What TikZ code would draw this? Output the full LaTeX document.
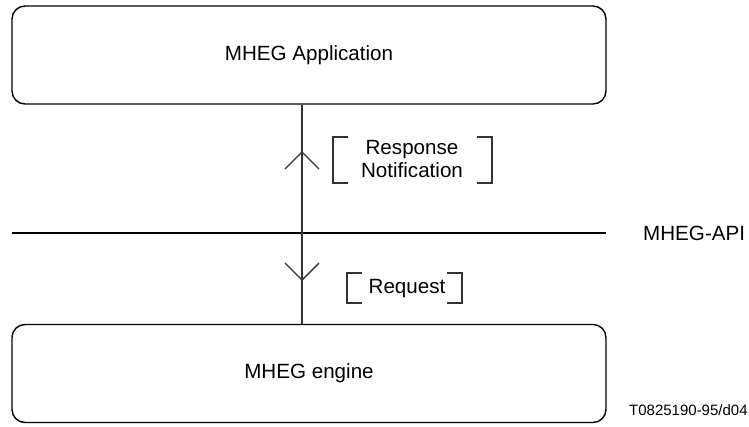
\documentclass[tikz,border=0pt]{standalone}
\usepackage{fontspec}
\setmainfont{Liberation Sans}
\begin{document}
\begin{tikzpicture}[x=1pt,y=-1pt,
  box/.style={draw, line width=1.4pt, rounded corners=13pt, minimum width=594pt, minimum height=98pt, inner sep=0pt, font=\fontsize{20.6}{24}\selectfont},
  lbl/.style={font=\fontsize{20.6}{23}\selectfont, align=center, inner sep=0pt},
  small/.style={font=\fontsize{15}{18}\selectfont, inner sep=0pt},
  ln/.style={line width=1.4pt, draw=black!80},
  brk/.style={line width=1.2pt, draw=black!80}]
\useasboundingbox (0,0) rectangle (749,426);
\node[box] (app) at (309,55) {MHEG Application};
\node[box] (eng) at (309,373.5) {MHEG engine};
\coordinate (apiL) at (12,233);
\coordinate (apiR) at (606,233);
\node[lbl, anchor=west] (api) at (643,233) {MHEG-API};
\draw[line width=1.8pt] (apiL) -- (apiR);
\draw[ln] (app.south -| 302,0) -- (eng.north -| 302,0);
% chevrons
\draw[ln] (285,169) -- (302,152) -- (319,169);
\draw[ln] (285,263) -- (302,280) -- (319,263);
% response notification
\node[lbl] (resp) at (412,159) {Response\\Notification};
\draw[brk] (348,137) -- (333,137) -- (333,183) -- (348,183);
\draw[brk] (477,137) -- (492,137) -- (492,183) -- (477,183);
% request
\node[lbl] (req) at (407,289) {Request};
\draw[brk] (362,273) -- (347,273) -- (347,303) -- (362,303);
\draw[brk] (447,273) -- (462,273) -- (462,303) -- (447,303);
\node[small, anchor=west] (tag) at (629,410) {T0825190-95/d04};
\end{tikzpicture}
\end{document}
